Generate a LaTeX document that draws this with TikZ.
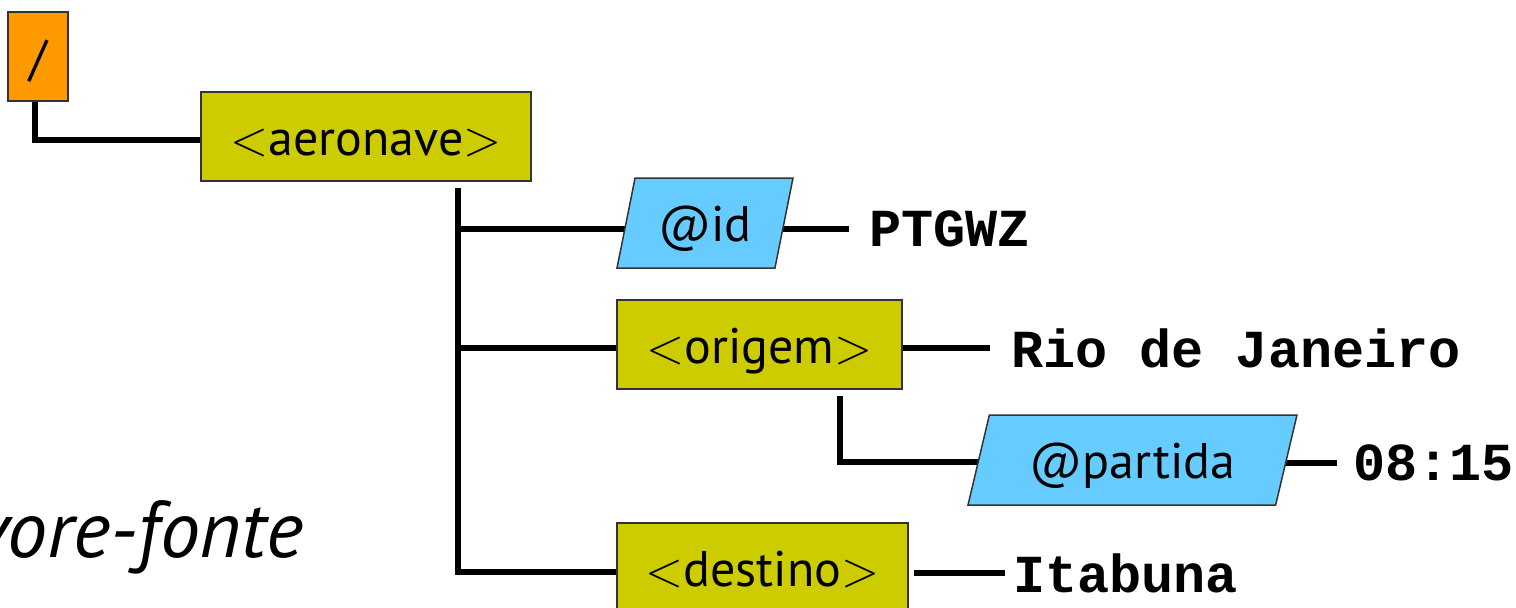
\RequirePackage{fix-cm}
\documentclass[tikz,border=0pt]{standalone}
\usepackage{fontspec}
\setmainfont{PT Sans}
\newfontfamily\valfont{Liberation Mono}
\usetikzlibrary{shapes.geometric,backgrounds}

\definecolor{rootorange}{HTML}{FF9900}
\definecolor{elemolive}{HTML}{CCCC00}
\definecolor{attrblue}{HTML}{66CCFF}
\definecolor{edgegray}{HTML}{333333}

% tag brackets of the element labels
\newcommand{\tagopen}{$<$}
\newcommand{\tagclose}{$>$}

\tikzset{
  treebox/.style={draw=edgegray, line width=1.5pt, inner sep=0pt,
    text height=37pt, text depth=0pt,
    font=\fontsize{50}{54}\selectfont},
  rootbox/.style={treebox, fill=rootorange, minimum width=60pt, minimum height=89pt},
  elembox/.style={treebox, fill=elemolive, minimum height=89pt},
  attrbox/.style={treebox, fill=attrblue, trapezium, trapezium stretches body,
    minimum height=90pt},
  valtext/.style={inner sep=0pt, anchor=west,
    font=\valfont\bfseries\fontsize{53.5}{57}\selectfont},
  link/.style={line width=6pt, black}
}

\begin{document}
\begin{tikzpicture}[x=1pt, y=-1pt]
  \useasboundingbox (0,0) rectangle (1516,608);
  \clip (0,0) rectangle (1516,608);

  % nodes of the tree
  \node[rootbox] (root) at (38,56.5) {/};
  \node[elembox, minimum width=330pt] (aero) at (366,136.5) {\tagopen aeronave\tagclose};
  \node[attrbox, trapezium left angle=64, trapezium right angle=116,
        minimum width=176pt] (id) at (705,223) {@id};
  \node[elembox, minimum width=285pt] (origem) at (759.5,344.5) {\tagopen origem\tagclose};
  \node[attrbox, trapezium left angle=60, trapezium right angle=120,
        minimum width=329pt] (partida) at (1132.5,460) {@partida};
  \node[elembox, minimum width=291pt] (destino) at (762.5,567.5) {\tagopen destino\tagclose};

  % text values
  \node[valtext] (vid) at (869,229) {PTGWZ};
  \node[valtext] (vorigem) at (1011,348) {Rio de Janeiro};
  \node[valtext] (vpartida) at (1353,463) {08:15};
  \node[valtext] (vdestino) at (1013,573) {Itabuna};

  % caption
  \node[anchor=base east, inner sep=0pt,
        font=\itshape\fontsize{80}{86}\selectfont] (caption) at (304,557) {vore-fonte};

  % branch points
  \coordinate (trunk) at (458,188);
  \coordinate (subtrunk) at (840,396);

  % connectors, kept behind the boxes (the page y axis points down,
  % so a negative yshift moves a point lower)
  \begin{pgfonlayer}{background}
    \draw[link] ([xshift=-3pt]root.south) |- ([yshift=-3.5pt]aero.west);
    \draw[link] (trunk) |- (id.center |- vid.west);
    \draw[link] (trunk) |- ([yshift=-3pt]origem.center);
    \draw[link] (trunk) |- ([yshift=-4.5pt]destino.center);
    \draw[link] (subtrunk) |- ([yshift=-2pt]partida.center);
    \draw[link] (id.center |- vid.west) -- ([xshift=-20pt]vid.west);
    \draw[link] (origem.center |- vorigem.west) -- ([xshift=-21pt]vorigem.west);
    \draw[link] (partida.center |- vpartida.west) -- ([xshift=-16pt]vpartida.west);
    \draw[link] ([xshift=5pt]destino.east |- vdestino.west) -- ([xshift=-8pt]vdestino.west);
  \end{pgfonlayer}
\end{tikzpicture}
\end{document}
